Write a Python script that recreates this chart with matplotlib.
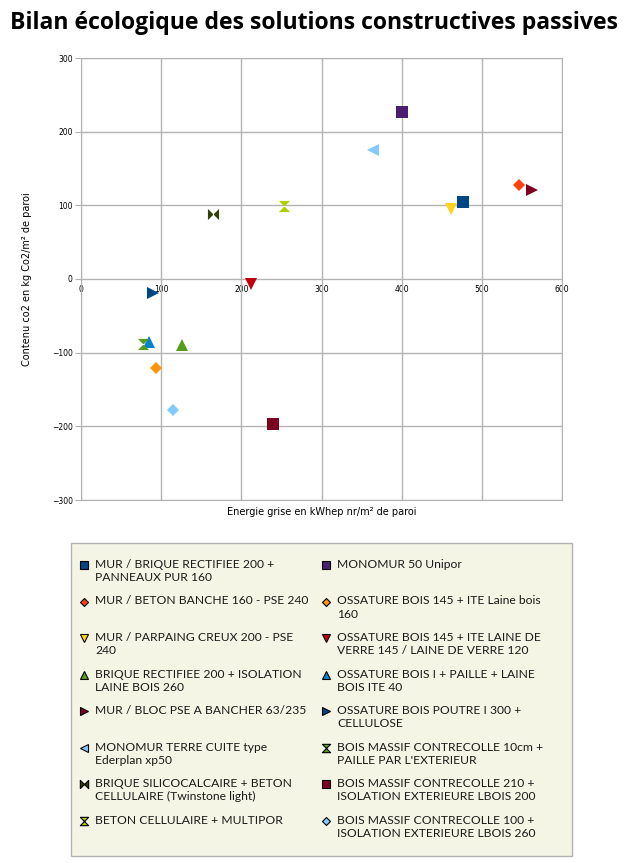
import numpy as np
import matplotlib.pyplot as plt
from matplotlib.patches import Rectangle

# Series (legend order: left column first, then right column)
labels = [
    "MUR / BRIQUE RECTIFIEE 200 +\nPANNEAUX PUR 160",
    "MUR / BETON BANCHE 160 - PSE 240",
    "MUR / PARPAING CREUX 200 - PSE\n240",
    "BRIQUE RECTIFIEE 200 + ISOLATION\nLAINE BOIS 260",
    "MUR / BLOC PSE A BANCHER 63/235",
    "MONOMUR TERRE CUITE type\nEderplan xp50",
    "BRIQUE SILICOCALCAIRE + BETON\nCELLULAIRE (Twinstone light)",
    "BETON CELLULAIRE + MULTIPOR",
    "MONOMUR 50 Unipor",
    "OSSATURE BOIS 145 + ITE Laine bois\n160",
    "OSSATURE BOIS 145 + ITE LAINE DE\nVERRE 145 / LAINE DE VERRE 120",
    "OSSATURE BOIS I + PAILLE + LAINE\nBOIS ITE 40",
    "OSSATURE BOIS POUTRE I 300 +\nCELLULOSE",
    "BOIS MASSIF CONTRECOLLE 10cm +\nPAILLE PAR L'EXTERIEUR",
    "BOIS MASSIF CONTRECOLLE 210 +\nISOLATION EXTERIEURE LBOIS 200",
    "BOIS MASSIF CONTRECOLLE 100 +\nISOLATION EXTERIEURE LBOIS 260",
]
energie = [476, 546, 461, 126, 562, 364, 165, 253, 400, 94, 212, 85, 90, 77, 240, 115]
co2 = [105, 128, 95, -90, 121, 175, 88, 99, 227, -121, -7, -86, -19, -88, -197, -178]

colors = ["#004586", "#ff420e", "#ffd320", "#579d1c", "#7e0021", "#83caff",
          "#314004", "#aecf00", "#4b1f6f", "#ff950e", "#c5000b", "#0084d1",
          "#004586", "#579d1c", "#7e0021", "#83caff"]

bowtie = [(-1, -1), (1, 1), (1, -1), (-1, 1), (-1, -1)]
hourglass = [(-1, 1), (1, 1), (-1, -1), (1, -1), (-1, 1)]
markers = ["s", "D", "v", "^", ">", "<", bowtie, hourglass,
           "s", "D", "v", "^", ">", hourglass, "s", "D"]
sizes = [9, 6, 9, 9, 9, 9, 8, 8, 9, 6, 9, 9, 9, 8, 9, 6]

grid_c = "#b3b3b3"

fig = plt.figure(figsize=(6.26, 8.63), dpi=100)
fig.text(314 / 626, 1 - 23 / 863, "Bilan écologique des solutions constructives passives",
         ha="center", va="center", fontsize=16.6, fontweight="bold", family="Open Sans")

ax = fig.add_axes([81 / 626, 1 - 500 / 863, (562 - 81) / 626, (500 - 58) / 863])
for x, y, c, m, s in zip(energie, co2, colors, markers, sizes):
    ax.plot(x, y, linestyle="none", marker=m, color=c, markersize=s,
            markeredgewidth=0, zorder=3)

ax.set_xlim(0, 600)
ax.set_ylim(-300, 300)
ax.set_yticks(np.arange(-300, 301, 100))
ax.set_xticks(np.arange(0, 601, 100))
ax.grid(True, color=grid_c, linewidth=1)
for sp in ax.spines.values():
    sp.set_color(grid_c)
ax.tick_params(axis="x", length=0, labelbottom=False)
ax.tick_params(axis="y", length=4, color=grid_c, labelsize=5.5, pad=2)

# x tick labels sit on the y=0 line
sec = ax.secondary_xaxis(0.5)
sec.set_xticks(np.arange(0, 601, 100))
sec.xaxis.set_ticks_position("bottom")
sec.tick_params(length=0, labelsize=5.5, pad=4, labelbottom=True, labeltop=False)
for sp in sec.spines.values():
    sp.set_visible(False)

ax.set_xlabel("Energie grise en kWhep nr/m² de paroi", fontsize=7, labelpad=5)
ax.set_ylabel("Contenu co2 en kg Co2/m² de paroi", fontsize=7, labelpad=14)

# legend box
lax = fig.add_axes([70 / 626, 1 - 856 / 863, (572 - 70) / 626, (856 - 542) / 863])
lax.set_xlim(0, 502)
lax.set_ylim(314, 0)
lax.axis("off")
lax.add_patch(Rectangle((0.5, 0.5), 501, 313, facecolor="#f5f5e6", edgecolor=grid_c,
                        linewidth=1, clip_on=False))
row_y = [23, 59.5, 96, 132.5, 169, 205.5, 242, 278.5]
for i, (lab, c, m) in enumerate(zip(labels, colors, markers)):
    col, row = divmod(i, 8)
    mx = 14 + col * 242
    ms = 4.5 if m == "D" else 6
    lax.plot(mx, row_y[row], linestyle="none", marker=m, color=c, markersize=ms,
             markeredgecolor="black", markeredgewidth=0.8)
    lax.text(mx + 11, row_y[row] - 6, lab, fontsize=8.7, family="Lato",
             va="top", ha="left", linespacing=1.25, color="#1a1a1a")

fig.savefig("out.png", dpi=100)
